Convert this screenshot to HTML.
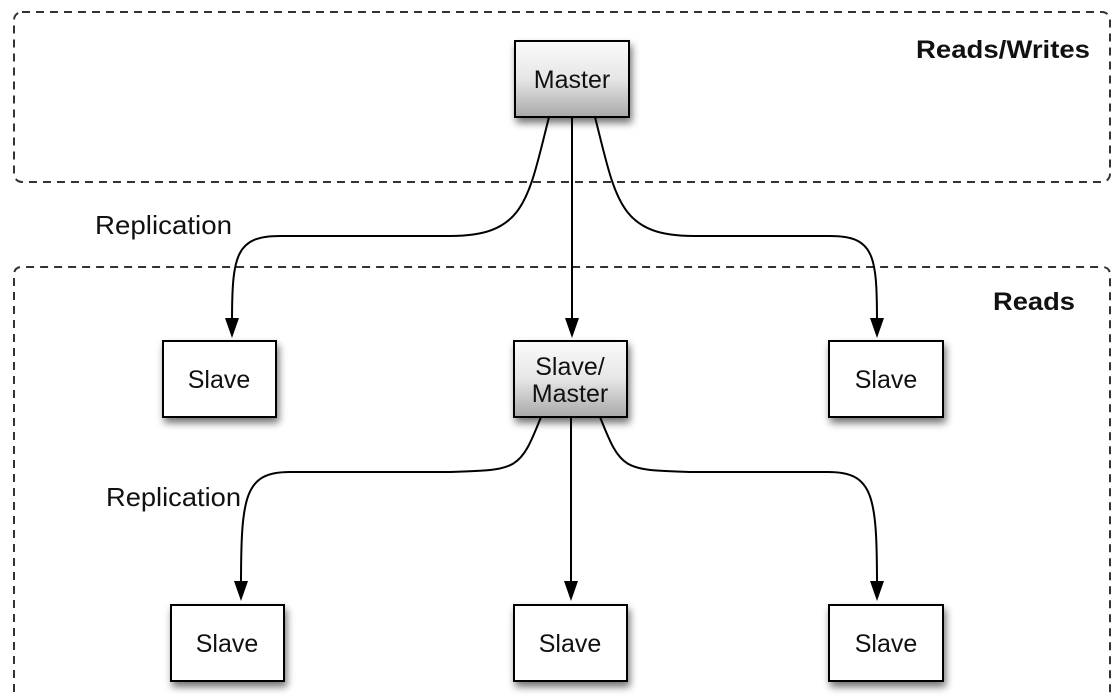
<!DOCTYPE html>
<html><head><style>
html,body{margin:0;padding:0;background:#fff;}
svg{display:block;font-family:"Liberation Sans",Arial,sans-serif;}
</style></head><body>
<svg width="1115" height="698" viewBox="0 0 1115 698" xmlns="http://www.w3.org/2000/svg">
<defs>
<linearGradient id="g" x1="0" y1="0" x2="0" y2="1">
<stop offset="0" stop-color="#fafafa"/><stop offset="0.5" stop-color="#e6e6e6"/><stop offset="1" stop-color="#a8a8a8"/>
</linearGradient>
<filter id="sh" x="-30%" y="-30%" width="160%" height="170%">
<feGaussianBlur in="SourceAlpha" stdDeviation="4"/><feOffset dx="2" dy="5"/>
<feComponentTransfer><feFuncA type="linear" slope="0.55"/></feComponentTransfer>
<feMerge><feMergeNode/><feMergeNode in="SourceGraphic"/></feMerge>
</filter>
</defs>
<g fill="none" stroke="#333" stroke-width="2" stroke-dasharray="8,6">
<rect x="14" y="12" width="1096" height="170" rx="8"/>
<path d="M14,720 L14,275 Q14,267 22,267 L1102,267 Q1110,267 1110,275 L1110,720"/>
</g>
<g fill="none" stroke="#000" stroke-width="2">
<path d="M549,117 C528,200 525,236 450,236 L280,236 C236,236 232,255 232,322"/>
<path d="M572,117 L572,322"/>
<path d="M595,117 C616,200 619,236 694,236 L830,236 C874,236 877,255 877,322"/>
<path d="M541,417 C520,470 518,470 450,472 L290,472 C245,472 241,495 241,585"/>
<path d="M571,417 L571,585"/>
<path d="M600,417 C621,470 623,470 690,472 L828,472 C873,472 877,495 877,585"/>
</g>
<g fill="#000">
<path d="M225,318 L239,318 L232,338 Z"/>
<path d="M565,318 L579,318 L572,338 Z"/>
<path d="M870,318 L884,318 L877,338 Z"/>
<path d="M234,581 L248,581 L241,601 Z"/>
<path d="M564,581 L578,581 L571,601 Z"/>
<path d="M870,581 L884,581 L877,601 Z"/>
</g>
<g stroke="#000" stroke-width="2" filter="url(#sh)">
<rect x="515" y="41" width="114" height="76" fill="url(#g)"/>
<rect x="514" y="341" width="113" height="76" fill="url(#g)"/>
<rect x="163" y="341" width="113" height="76" fill="#fff"/>
<rect x="829" y="341" width="114" height="76" fill="#fff"/>
<rect x="171" y="605" width="113" height="76" fill="#fff"/>
<rect x="514" y="605" width="113" height="76" fill="#fff"/>
<rect x="829" y="605" width="114" height="76" fill="#fff"/>
</g>
<g font-size="25" fill="#111" text-anchor="middle">
<text x="572" y="88">Master</text>
<text x="570" y="375">Slave/</text>
<text x="570" y="402">Master</text>
<text x="219" y="388">Slave</text>
<text x="886" y="388">Slave</text>
<text x="227" y="652">Slave</text>
<text x="570" y="652">Slave</text>
<text x="886" y="652">Slave</text>
</g>
<g font-size="26" fill="#111">
<text x="95" y="234" textLength="137" lengthAdjust="spacingAndGlyphs">Replication</text>
<text x="106" y="506" textLength="135" lengthAdjust="spacingAndGlyphs">Replication</text>
</g>
<g font-size="25" font-weight="bold" fill="#111">
<text x="916" y="58" textLength="174" lengthAdjust="spacingAndGlyphs">Reads/Writes</text>
<text x="993" y="310" textLength="82" lengthAdjust="spacingAndGlyphs">Reads</text>
</g>
</svg>
</body></html>
